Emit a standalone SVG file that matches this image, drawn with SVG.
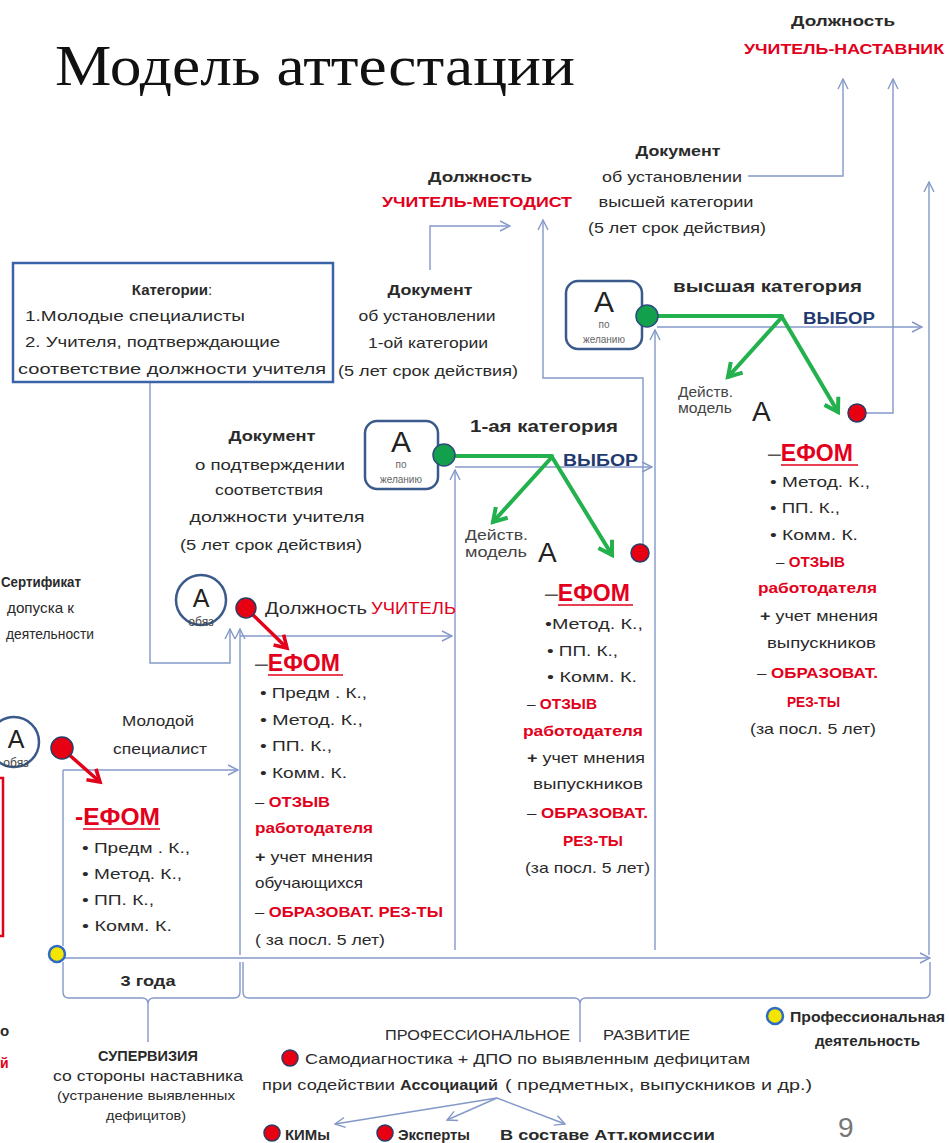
<svg xmlns="http://www.w3.org/2000/svg" width="949" height="1143" viewBox="0 0 949 1143">
<style>
text{font-family:"Liberation Sans",Arial,sans-serif;font-size:15px;fill:#2a2a2a}
.b{font-weight:bold}
.r{fill:#e3001b;font-weight:bold}
.n{fill:#1f3a6e;font-weight:bold}
.c{text-anchor:middle}
.ef{font-size:23px}
.ln{fill:none;stroke:#8499c9;stroke-width:1.4}
.gr{fill:none;stroke:#22b14c;stroke-width:4;stroke-linecap:round}
.ra{fill:none;stroke:#e3001b;stroke-width:3.5}
.rd{fill:#e60012;stroke:#2b3a67;stroke-width:1.5}
.gd{fill:#12a04c;stroke:#2c4d7c;stroke-width:1.5}
.yd{fill:#f5e600;stroke:#2e6bc4;stroke-width:2.5}
.bx{fill:#fff;stroke:#3b5a8c;stroke-width:2.5}
.sm{font-size:10px;fill:#666}
.ul{stroke:#e3001b;stroke-width:1.6}
</style>
<defs>
<marker id="ah" viewBox="0 0 12 12" refX="11" refY="6" markerWidth="12" markerHeight="12" markerUnits="userSpaceOnUse" orient="auto"><path d="M1,1 L11,6 L1,11" fill="none" stroke="#8499c9" stroke-width="1.4"/></marker>
<marker id="ga" viewBox="0 0 20 20" refX="16" refY="10" markerWidth="20" markerHeight="20" markerUnits="userSpaceOnUse" orient="auto"><path d="M3,2 L16,10 L3,18" fill="none" stroke="#22b14c" stroke-width="4"/></marker>
<marker id="ra" viewBox="0 0 20 20" refX="16" refY="10" markerWidth="18" markerHeight="18" markerUnits="userSpaceOnUse" orient="auto"><path d="M3,2 L16,10 L3,18" fill="none" stroke="#e3001b" stroke-width="4"/></marker>
</defs>
<rect width="949" height="1143" fill="#fff"/>

<text x="55" y="85" textLength="520" lengthAdjust="spacingAndGlyphs" style="font-family:'Liberation Serif','Times New Roman',serif;font-size:56px;fill:#111">Модель аттестации</text>

<g id="connectors">
<path class="ln" d="M748,176 H843 V79" marker-end="url(#ah)"/>
<path class="ln" d="M866,413 H893 V79" marker-end="url(#ah)"/>
<path class="ln" d="M929,955 V182" marker-end="url(#ah)"/>
<path class="ln" d="M430,270 V226 H510" marker-end="url(#ah)"/>
<path class="ln" d="M643,544 V378 H543 V220" marker-end="url(#ah)"/>
<path class="ln" d="M657,327 H922" marker-end="url(#ah)"/>
<path class="ln" d="M655,950 V330" marker-end="url(#ah)"/>
<path class="ln" d="M455,467 H652" marker-end="url(#ah)"/>
<path class="ln" d="M455,950 V470" marker-end="url(#ah)"/>
<path class="ln" d="M150,382 V663 H230 V629" marker-end="url(#ah)"/>
<path class="ln" d="M240,955 V629" marker-end="url(#ah)"/>
<path class="ln" d="M240,636 H452" marker-end="url(#ah)"/>
<path class="ln" d="M63,770 H238" marker-end="url(#ah)"/>
<path class="ln" d="M63,770 V946"/>
<path class="ln" d="M57,958 H930" marker-end="url(#ah)"/>
<path class="ln" d="M63,962 V992 Q63,998 69,998 H142 Q148,998 148,1004 V1042 M148,1004 Q148,998 154,998 H234 Q240,998 240,992 V962"/>
<path class="ln" d="M243,962 V992 Q243,998 249,998 H574 Q580,998 580,1004 V1042 M580,1004 Q580,998 586,998 H924 Q930,998 930,992 V962"/>
<path class="ln" d="M497,1098 L335,1124" marker-end="url(#ah)"/>
<path class="ln" d="M497,1098 L447,1120" marker-end="url(#ah)"/>
<path class="ln" d="M497,1098 L565,1124" marker-end="url(#ah)"/>
<path class="gr" d="M444,456 H552"/>
<path class="gr" d="M552,457 L493,522" marker-end="url(#ga)"/>
<path class="gr" d="M552,457 L612,555" marker-end="url(#ga)"/>
<path class="gr" d="M647,316 H782"/>
<path class="gr" d="M782,317 L728,377" marker-end="url(#ga)"/>
<path class="gr" d="M782,317 L838,412" marker-end="url(#ga)"/>
<path class="ra" d="M250,612 L287,648" marker-end="url(#ra)"/>
<path class="ra" d="M66,752 L100,782" marker-end="url(#ra)"/>
</g>

<g id="top-nastavnik">
<text class="b c" x="843" y="26" textLength="104" lengthAdjust="spacingAndGlyphs">Должность</text>
<text class="r c" x="844" y="54" textLength="200" lengthAdjust="spacingAndGlyphs">УЧИТЕЛЬ-НАСТАВНИК</text>
</g>

<g id="doc-vysshaya">
<text class="b c" x="678" y="156" textLength="85" lengthAdjust="spacingAndGlyphs">Документ</text>
<text class="c" x="672" y="182" textLength="140" lengthAdjust="spacingAndGlyphs">об установлении</text>
<text class="c" x="676" y="207" textLength="155" lengthAdjust="spacingAndGlyphs">высшей категории</text>
<text class="c" x="677" y="233" textLength="178" lengthAdjust="spacingAndGlyphs">(5 лет срок действия)</text>
</g>

<g id="top-metodist">
<text class="b c" x="480" y="182" textLength="104" lengthAdjust="spacingAndGlyphs">Должность</text>
<text class="r c" x="477" y="207" textLength="190" lengthAdjust="spacingAndGlyphs">УЧИТЕЛЬ-МЕТОДИСТ</text>
</g>

<g id="categories">
<rect x="13" y="263" width="320" height="119" fill="#fff" stroke="#3b63a8" stroke-width="2.5"/>
<text class="c" x="172" y="295"><tspan class="b">Категории</tspan>:</text>
<text x="25" y="321" textLength="220" lengthAdjust="spacingAndGlyphs">1.Молодые специалисты</text>
<text x="25" y="347" textLength="255" lengthAdjust="spacingAndGlyphs">2. Учителя, подтверждающие</text>
<text x="18" y="374" textLength="308" lengthAdjust="spacingAndGlyphs">соответствие должности учителя</text>
</g>

<g id="doc-1kat">
<text class="b c" x="430" y="295" textLength="85" lengthAdjust="spacingAndGlyphs">Документ</text>
<text class="c" x="427" y="321" textLength="137" lengthAdjust="spacingAndGlyphs">об установлении</text>
<text class="c" x="428" y="348" textLength="120" lengthAdjust="spacingAndGlyphs">1-ой категории</text>
<text class="c" x="428" y="376" textLength="180" lengthAdjust="spacingAndGlyphs">(5 лет срок действия)</text>
</g>

<g id="box-vysshaya">
<rect class="bx" x="566" y="281" width="76" height="68" rx="12"/>
<text class="c" x="604" y="312" style="font-size:30px;fill:#222">А</text>
<text class="c sm" x="604" y="328">по</text>
<text class="c sm" x="604" y="343">желанию</text>
<circle class="gd" cx="647" cy="316" r="11"/>
<text class="b" x="673" y="292" textLength="189" lengthAdjust="spacingAndGlyphs" style="font-size:16px">высшая категория</text>
<text class="n" x="803" y="324" textLength="72" lengthAdjust="spacingAndGlyphs" style="font-size:16px">ВЫБОР</text>
<text x="678" y="397" textLength="55" lengthAdjust="spacingAndGlyphs" style="font-size:14px;fill:#444">Действ.</text>
<text x="678" y="413" textLength="54" lengthAdjust="spacingAndGlyphs" style="font-size:14px;fill:#444">модель</text>
<text x="752" y="421" style="font-size:28px;fill:#222">А</text>
<circle class="rd" cx="857" cy="413" r="9"/>
</g>

<g id="efom-vysshaya">
<text x="768" y="461" class="ef"><tspan style="fill:#555">–</tspan><tspan class="r">ЕФОМ</tspan></text>
<line class="ul" x1="781" y1="465" x2="858" y2="465"/>
<text x="770" y="487" textLength="100" lengthAdjust="spacingAndGlyphs">• Метод. К.,</text>
<text x="770" y="513" textLength="70" lengthAdjust="spacingAndGlyphs">• ПП. К.,</text>
<text x="770" y="540" textLength="88" lengthAdjust="spacingAndGlyphs">• Комм. К.</text>
<text x="776" y="567" textLength="69" lengthAdjust="spacingAndGlyphs"><tspan>– </tspan><tspan class="r">ОТЗЫВ</tspan></text>
<text class="r" x="758" y="593" textLength="119" lengthAdjust="spacingAndGlyphs">работодателя</text>
<text x="760" y="621" textLength="118" lengthAdjust="spacingAndGlyphs"><tspan class="b">+</tspan> учет мнения</text>
<text x="767" y="648" textLength="109" lengthAdjust="spacingAndGlyphs">выпускников</text>
<text x="757" y="678" textLength="121" lengthAdjust="spacingAndGlyphs"><tspan>– </tspan><tspan class="r">ОБРАЗОВАТ.</tspan></text>
<text class="r" x="787" y="707" textLength="53" lengthAdjust="spacingAndGlyphs">РЕЗ-ТЫ</text>
<text x="750" y="734" textLength="126" lengthAdjust="spacingAndGlyphs">(за посл. 5 лет)</text>
</g>

<g id="box-1kat">
<rect class="bx" x="365" y="421" width="73" height="68" rx="12"/>
<text class="c" x="401" y="452" style="font-size:30px;fill:#222">А</text>
<text class="c sm" x="401" y="468">по</text>
<text class="c sm" x="401" y="483">желанию</text>
<circle class="gd" cx="444" cy="455" r="11"/>
<text class="b" x="470" y="432" textLength="148" lengthAdjust="spacingAndGlyphs" style="font-size:16px">1-ая категория</text>
<text class="n" x="563" y="466" textLength="75" lengthAdjust="spacingAndGlyphs" style="font-size:16px">ВЫБОР</text>
<text x="465" y="540" textLength="63" lengthAdjust="spacingAndGlyphs" style="font-size:15px;fill:#444">Действ.</text>
<text x="465" y="557" textLength="62" lengthAdjust="spacingAndGlyphs" style="font-size:15px;fill:#444">модель</text>
<text x="538" y="562" style="font-size:28px;fill:#222">А</text>
<circle class="rd" cx="640" cy="553" r="9"/>
</g>

<g id="efom-1kat">
<text x="545" y="601" class="ef"><tspan style="fill:#555">–</tspan><tspan class="r">ЕФОМ</tspan></text>
<line class="ul" x1="558" y1="605" x2="633" y2="605"/>
<text x="545" y="629" textLength="98" lengthAdjust="spacingAndGlyphs">•Метод. К.,</text>
<text x="547" y="656" textLength="71" lengthAdjust="spacingAndGlyphs">• ПП. К.,</text>
<text x="547" y="682" textLength="90" lengthAdjust="spacingAndGlyphs">• Комм. К.</text>
<text x="527" y="709" textLength="70" lengthAdjust="spacingAndGlyphs"><tspan>– </tspan><tspan class="r">ОТЗЫВ</tspan></text>
<text class="r" x="523" y="736" textLength="120" lengthAdjust="spacingAndGlyphs">работодателя</text>
<text x="527" y="763" textLength="118" lengthAdjust="spacingAndGlyphs"><tspan class="b">+</tspan> учет мнения</text>
<text x="533" y="789" textLength="110" lengthAdjust="spacingAndGlyphs">выпускников</text>
<text x="527" y="818" textLength="121" lengthAdjust="spacingAndGlyphs"><tspan>– </tspan><tspan class="r">ОБРАЗОВАТ.</tspan></text>
<text class="r" x="563" y="846" textLength="60" lengthAdjust="spacingAndGlyphs">РЕЗ-ТЫ</text>
<text x="525" y="873" textLength="125" lengthAdjust="spacingAndGlyphs">(за посл. 5 лет)</text>
</g>

<g id="doc-podtv">
<text class="b c" x="272" y="441" textLength="87" lengthAdjust="spacingAndGlyphs">Документ</text>
<text class="c" x="270" y="470" textLength="150" lengthAdjust="spacingAndGlyphs">о подтверждении</text>
<text class="c" x="269" y="495" textLength="108" lengthAdjust="spacingAndGlyphs">соответствия</text>
<text class="c" x="277" y="522" textLength="175" lengthAdjust="spacingAndGlyphs">должности учителя</text>
<text class="c" x="271" y="550" textLength="182" lengthAdjust="spacingAndGlyphs">(5 лет  срок действия)</text>
</g>

<g id="a-obyaz-uchitel">
<circle cx="201" cy="600" r="25" fill="#fff" stroke="#3b5a8c" stroke-width="2.5"/>
<text class="c" x="201" y="607" style="font-size:25px;fill:#222">А</text>
<text class="c" x="201" y="626" style="font-size:12px;fill:#444">обяз</text>
<circle class="rd" cx="246" cy="608" r="10"/>
<text x="265" y="614" textLength="102" lengthAdjust="spacingAndGlyphs" style="font-size:16px">Должность</text>
<text class="r" x="371" y="614" textLength="85" lengthAdjust="spacingAndGlyphs" style="font-size:16px;font-weight:normal">УЧИТЕЛЬ</text>
</g>

<g id="efom-uchitel">
<text x="255" y="671" class="ef"><tspan style="fill:#555">–</tspan><tspan class="r">ЕФОМ</tspan></text>
<line class="ul" x1="268" y1="675" x2="343" y2="675"/>
<text x="260" y="698" textLength="107" lengthAdjust="spacingAndGlyphs">• Предм . К.,</text>
<text x="260" y="725" textLength="103" lengthAdjust="spacingAndGlyphs">• Метод. К.,</text>
<text x="260" y="751" textLength="72" lengthAdjust="spacingAndGlyphs">• ПП. К.,</text>
<text x="260" y="778" textLength="87" lengthAdjust="spacingAndGlyphs">• Комм. К.</text>
<text x="255" y="807" textLength="75" lengthAdjust="spacingAndGlyphs"><tspan>– </tspan><tspan class="r">ОТЗЫВ</tspan></text>
<text class="r" x="255" y="833" textLength="118" lengthAdjust="spacingAndGlyphs">работодателя</text>
<text x="255" y="862" textLength="118" lengthAdjust="spacingAndGlyphs"><tspan class="b">+</tspan> учет мнения</text>
<text x="255" y="888" textLength="108" lengthAdjust="spacingAndGlyphs">обучающихся</text>
<text x="255" y="917" textLength="188" lengthAdjust="spacingAndGlyphs"><tspan>– </tspan><tspan class="r">ОБРАЗОВАТ. РЕЗ-ТЫ</tspan></text>
<text x="255" y="945" textLength="130" lengthAdjust="spacingAndGlyphs">( за посл. 5 лет)</text>
</g>

<g id="certificate">
<text class="b" x="1" y="587" textLength="80" lengthAdjust="spacingAndGlyphs">Сертификат</text>
<text x="7" y="613" textLength="67" lengthAdjust="spacingAndGlyphs">допуска к</text>
<text x="6" y="639" textLength="88" lengthAdjust="spacingAndGlyphs">деятельности</text>
</g>

<g id="young">
<rect x="-50" y="778" width="53" height="158" fill="none" stroke="#e3001b" stroke-width="2.5"/>
<circle cx="14" cy="742" r="25" fill="#fff" stroke="#3b5a8c" stroke-width="2.5"/>
<text class="c" x="16" y="748" style="font-size:25px;fill:#222">А</text>
<text class="c" x="16" y="767" style="font-size:12px;fill:#444">обяз</text>
<circle class="rd" cx="62" cy="748" r="11"/>
<text class="c" x="158" y="726" textLength="72" lengthAdjust="spacingAndGlyphs">Молодой</text>
<text class="c" x="160" y="754" textLength="94" lengthAdjust="spacingAndGlyphs">специалист</text>
<text class="r ef" x="75" y="825" textLength="85" lengthAdjust="spacingAndGlyphs">-ЕФОМ</text>
<line class="ul" x1="83" y1="829" x2="160" y2="829"/>
<text x="82" y="853" textLength="108" lengthAdjust="spacingAndGlyphs">• Предм . К.,</text>
<text x="82" y="879" textLength="100" lengthAdjust="spacingAndGlyphs">• Метод. К.,</text>
<text x="82" y="905" textLength="72" lengthAdjust="spacingAndGlyphs">• ПП. К.,</text>
<text x="82" y="931" textLength="90" lengthAdjust="spacingAndGlyphs">• Комм. К.</text>
</g>

<g id="timeline">
<circle class="yd" cx="57" cy="954" r="8"/>
<text class="b c" x="148" y="986" textLength="55" lengthAdjust="spacingAndGlyphs">3 года</text>
<text class="b" x="0" y="1036" style="font-size:15px">о</text>
<text class="r" x="0" y="1068" style="font-size:14px">й</text>
</g>

<g id="supervision">
<text class="b c" x="148" y="1061" textLength="100" lengthAdjust="spacingAndGlyphs">СУПЕРВИЗИЯ</text>
<text class="c" x="148" y="1081" textLength="190" lengthAdjust="spacingAndGlyphs" style="font-size:14px">со стороны наставника</text>
<text class="c" x="146" y="1100" textLength="178" lengthAdjust="spacingAndGlyphs" style="font-size:13px">(устранение выявленных</text>
<text class="c" x="146" y="1120" textLength="80" lengthAdjust="spacingAndGlyphs" style="font-size:13px">дефицитов)</text>
</g>

<g id="prof-development">
<text x="385" y="1040" textLength="185" lengthAdjust="spacingAndGlyphs">ПРОФЕССИОНАЛЬНОЕ</text>
<text x="603" y="1040" textLength="87" lengthAdjust="spacingAndGlyphs">РАЗВИТИЕ</text>
<circle class="rd" cx="290" cy="1058" r="8"/>
<text x="305" y="1064" textLength="445" lengthAdjust="spacingAndGlyphs">Самодиагностика + ДПО по выявленным дефицитам</text>
<text x="262" y="1090" textLength="133" lengthAdjust="spacingAndGlyphs">при содействии</text>
<text class="b" x="400" y="1090" textLength="98" lengthAdjust="spacingAndGlyphs">Ассоциаций</text>
<text x="505" y="1090" textLength="307" lengthAdjust="spacingAndGlyphs">( предметных, выпускников и др.)</text>
</g>

<g id="outputs">
<circle class="rd" cx="272" cy="1133" r="8"/>
<text class="b" x="285" y="1140" textLength="45" lengthAdjust="spacingAndGlyphs">КИМы</text>
<circle class="rd" cx="385" cy="1133" r="8"/>
<text class="b" x="398" y="1140" textLength="72" lengthAdjust="spacingAndGlyphs">Эксперты</text>
<text class="b" x="500" y="1140" textLength="215" lengthAdjust="spacingAndGlyphs">В составе Атт.комиссии</text>
<text x="838" y="1137" style="font-size:28px;fill:#777">9</text>
</g>

<g id="legend">
<circle class="yd" cx="775" cy="1016" r="8"/>
<text class="b" x="790" y="1022" textLength="155" lengthAdjust="spacingAndGlyphs">Профессиональная</text>
<text class="b" x="815" y="1046" textLength="105" lengthAdjust="spacingAndGlyphs">деятельность</text>
</g>
</svg>
